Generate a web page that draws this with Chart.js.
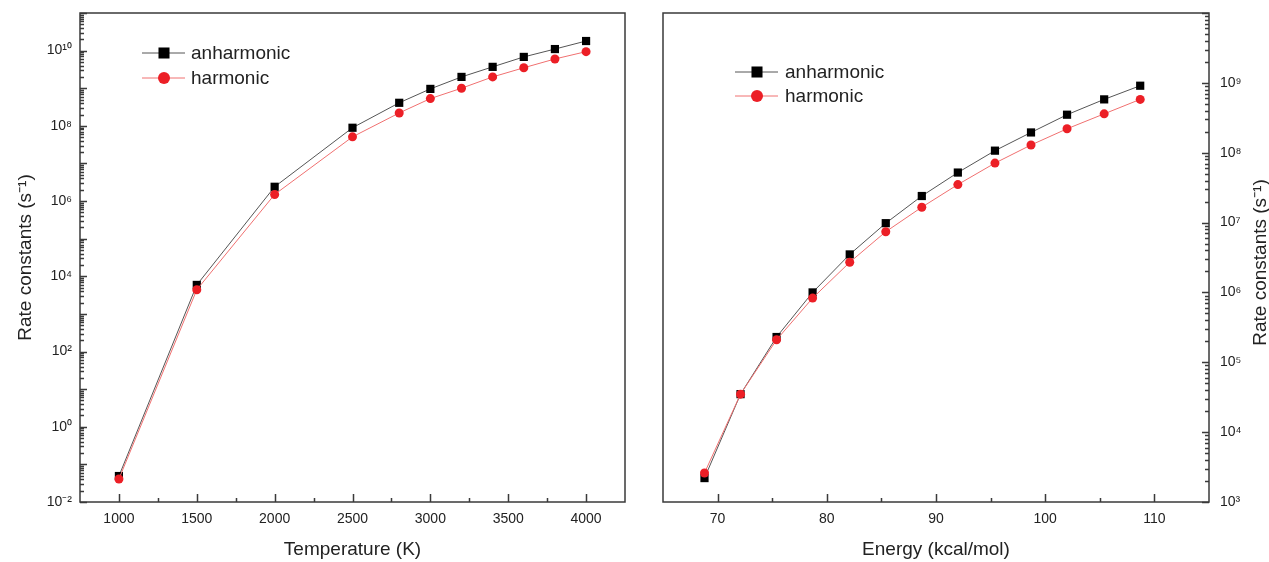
<!DOCTYPE html>
<html>
<head>
<meta charset="utf-8">
<title>Rate constants</title>
<script src="https://cdn.jsdelivr.net/npm/chart.js@4.4.0/dist/chart.umd.min.js"></script>
<style>
    html, body { margin: 0; padding: 0; background: #fff; overflow: hidden; }
    #wrap { position: relative; width: 1269px; height: 562px; }
    #tempChart { position: absolute; left: 0; top: 0; }
    #energyChart { position: absolute; left: 640px; top: 0; }
</style>
</head>
<body>
<div id="wrap">
    <canvas id="tempChart" width="640" height="562"></canvas>
    <canvas id="energyChart" width="629" height="562"></canvas>
</div>
<script>
// Left panel: rate constants vs temperature
const temperatures = [1000, 1500, 2000, 2500, 2800, 3000, 3200, 3400, 3600, 3800, 4000];
const anharmonicByT = [0.049, 5.9e3, 2.4e6, 8.9e7, 4.1e8, 9.6e8, 2.0e9, 3.7e9, 6.8e9, 1.1e10, 1.8e10];
const harmonicByT = [0.041, 4.4e3, 1.5e6, 5.1e7, 2.2e8, 5.3e8, 1.0e9, 2.0e9, 3.5e9, 6.0e9, 9.4e9];
const tempTicks = [1000, 1500, 2000, 2500, 3000, 3500, 4000];
const tempMinorTicks = [1250, 1750, 2250, 2750, 3250, 3750];
const tempRateLabelExps = [-2, 0, 2, 4, 6, 8, 10];

// Right panel: rate constants vs energy
const energies = [68.8, 72.1, 75.4, 78.7, 82.1, 85.4, 88.7, 92.0, 95.4, 98.7, 102.0, 105.4, 108.7];
const anharmonicByE = [2.2e3, 3.5e4, 2.3e5, 1.0e6, 3.5e6, 9.8e6, 2.4e7, 5.2e7, 1.07e8, 1.95e8, 3.5e8, 5.8e8, 9.1e8];
const harmonicByE = [2.6e3, 3.5e4, 2.1e5, 8.3e5, 2.7e6, 7.4e6, 1.66e7, 3.5e7, 7.1e7, 1.29e8, 2.2e8, 3.6e8, 5.8e8];
const energyTicks = [70, 80, 90, 100, 110];
const energyMinorTicks = [75, 85, 95, 105];
const energyRateLabelExps = [3, 4, 5, 6, 7, 8, 9];

const FONT = "'Liberation Sans', Arial, sans-serif";
const AXIS_COLOR = '#3a3a3a';
const TEXT_COLOR = '#222';

const SUP = {'-': '\u207B', '0': '\u2070', '1': '\u00B9', '2': '\u00B2', '3': '\u00B3',
    '4': '\u2074', '5': '\u2075', '6': '\u2076', '7': '\u2077', '8': '\u2078', '9': '\u2079'};

function powerLabel(value) {
    const e = Math.round(Math.log10(value));
    return '10' + String(e).split('').map(c => SUP[c]).join('');
}

function toPoints(xs, ys) {
    return xs.map((x, i) => ({x: x, y: ys[i]}));
}

// every decade plus 2..9 multiples between min and max exponent
function logTickSets(minExp, maxExp) {
    const major = [], minor = [];
    for (let e = minExp; e <= maxExp; e++) {
        major.push(Math.pow(10, e));
        if (e < maxExp) {
            for (let k = 2; k <= 9; k++) minor.push(k * Math.pow(10, e));
        }
    }
    return {major, minor};
}

// frame + inward tick marks
const frameTicks = {
    id: 'frameTicks',
    beforeDatasetsDraw(chart, args, opts) {
        const {ctx, chartArea: a, scales: {x, y}} = chart;
        ctx.save();
        ctx.strokeStyle = AXIS_COLOR;
        ctx.lineWidth = 1.5;
        ctx.beginPath();
        opts.xMajor.forEach(v => {
            const px = Math.round(x.getPixelForValue(v)) + 0.5;
            ctx.moveTo(px, a.bottom); ctx.lineTo(px, a.bottom - 8);
        });
        opts.xMinor.forEach(v => {
            const px = Math.round(x.getPixelForValue(v)) + 0.5;
            ctx.moveTo(px, a.bottom); ctx.lineTo(px, a.bottom - 4);
        });
        const ax = opts.ySide === 'right' ? a.right : a.left;
        const dir = opts.ySide === 'right' ? -1 : 1;
        opts.yMajor.forEach(v => {
            const py = Math.round(y.getPixelForValue(v)) + 0.5;
            ctx.moveTo(ax, py); ctx.lineTo(ax + dir * 7, py);
        });
        opts.yMinor.forEach(v => {
            const py = Math.round(y.getPixelForValue(v)) + 0.5;
            ctx.moveTo(ax, py); ctx.lineTo(ax + dir * 4, py);
        });
        ctx.stroke();
        ctx.strokeRect(a.left, a.top, a.right - a.left, a.bottom - a.top);
        ctx.restore();
    }
};

// legend inside the plot: line through marker, then label
const innerLegend = {
    id: 'innerLegend',
    afterDatasetsDraw(chart, args, opts) {
        const ctx = chart.ctx;
        ctx.save();
        chart.data.datasets.forEach((ds, i) => {
            const yy = opts.rows[i];
            ctx.strokeStyle = ds.borderColor;
            ctx.lineWidth = 1;
            ctx.beginPath();
            ctx.moveTo(opts.x0, yy); ctx.lineTo(opts.x1, yy);
            ctx.stroke();
            ctx.fillStyle = ds.pointBackgroundColor;
            Chart.helpers.drawPoint(ctx, {
                pointStyle: ds.pointStyle,
                radius: ds.pointStyle === 'rect' ? 7.8 : 6,
                rotation: 0,
                borderWidth: 0
            }, opts.mx, yy);
            ctx.fillStyle = TEXT_COLOR;
            ctx.font = '19px ' + FONT;
            ctx.textBaseline = 'middle';
            ctx.textAlign = 'left';
            ctx.fillText(ds.label, opts.tx, yy + 1);
        });
        ctx.restore();
    }
};

// right axis title, reading bottom to top like the left one
const rightTitle = {
    id: 'rightTitle',
    afterDraw(chart, args, opts) {
        if (!opts.text) return;
        const {ctx, chartArea: a} = chart;
        ctx.save();
        ctx.translate(opts.x, (a.top + a.bottom) / 2 + 5);
        ctx.rotate(-Math.PI / 2);
        ctx.fillStyle = TEXT_COLOR;
        ctx.font = '19px ' + FONT;
        ctx.textAlign = 'center';
        ctx.textBaseline = 'middle';
        ctx.fillText(opts.text, 0, 0);
        ctx.restore();
    }
};

function makeDatasets(xs, anh, har) {
    return [{
        label: 'anharmonic',
        data: toPoints(xs, anh),
        borderColor: '#555555',
        borderWidth: 1,
        pointStyle: 'rect',
        pointRadius: 5.8,
        pointBorderWidth: 0,
        pointBackgroundColor: '#000000',
        order: 1
    }, {
        label: 'harmonic',
        data: toPoints(xs, har),
        borderColor: '#f07070',
        borderWidth: 1,
        pointStyle: 'circle',
        pointRadius: 4.5,
        pointBorderWidth: 0,
        pointBackgroundColor: '#ec1f26',
        order: 0
    }];
}

function tickFont() {
    return {family: FONT, size: 14};
}

// keep the label half-heights from pushing the plot area in
function fixYBox(width) {
    return s => {
        s.width = width;
        s.paddingTop = 0;
        s.paddingBottom = 0;
    };
}

function fixXBox(s) {
    s.height = 60;
    s.paddingLeft = 0;
    s.paddingRight = 0;
}

function loadTempChart() {
    const yTicks = logTickSets(-2, 11);
    const ctx = document.getElementById('tempChart').getContext('2d');
    new Chart(ctx, {
        type: 'line',
        data: {datasets: makeDatasets(temperatures, anharmonicByT, harmonicByT)},
        options: {
            responsive: false,
            animation: false,
            events: [],
            layout: {padding: {top: 13, right: 15, left: 0, bottom: 0}},
            elements: {line: {tension: 0}},
            scales: {
                x: {
                    type: 'linear',
                    min: 750,
                    max: 4250,
                    afterBuildTicks: s => { s.ticks = tempTicks.map(v => ({value: v})); },
                    afterFit: fixXBox,
                    grid: {display: false, drawTicks: false},
                    border: {display: false},
                    ticks: {font: tickFont(), color: TEXT_COLOR, padding: 9, autoSkip: false, maxRotation: 0,
                        callback: v => String(v)},
                    title: {display: true, text: 'Temperature (K)', color: TEXT_COLOR,
                        font: {family: FONT, size: 19}, padding: {top: 0, bottom: 1}}
                },
                y: {
                    type: 'logarithmic',
                    min: 1e-2,
                    max: 1e11,
                    afterBuildTicks: s => { s.ticks = tempRateLabelExps.map(e => ({value: Math.pow(10, e)})); },
                    afterFit: fixYBox(80),
                    grid: {display: false, drawTicks: false},
                    border: {display: false},
                    ticks: {font: tickFont(), color: TEXT_COLOR, padding: 8, autoSkip: false,
                        callback: v => powerLabel(v)},
                    title: {display: true, text: 'Rate constants (s\u207B\u00B9)', color: TEXT_COLOR,
                        font: {family: FONT, size: 19}, padding: {top: 14, bottom: 0}}
                }
            },
            plugins: {
                legend: {display: false},
                tooltip: {enabled: false},
                frameTicks: {xMajor: tempTicks, xMinor: tempMinorTicks,
                    yMajor: yTicks.major, yMinor: yTicks.minor, ySide: 'left'},
                innerLegend: {x0: 142, x1: 185, mx: 164, tx: 191, rows: [53, 78]},
                rightTitle: {text: ''}
            }
        },
        plugins: [frameTicks, innerLegend, rightTitle]
    });
}

function loadEnergyChart() {
    const yTicks = logTickSets(3, 10);
    const ctx = document.getElementById('energyChart').getContext('2d');
    new Chart(ctx, {
        type: 'line',
        data: {datasets: makeDatasets(energies, anharmonicByE, harmonicByE)},
        options: {
            responsive: false,
            animation: false,
            events: [],
            layout: {padding: {top: 13, right: 0, left: 23, bottom: 0}},
            elements: {line: {tension: 0}},
            scales: {
                x: {
                    type: 'linear',
                    min: 65,
                    max: 115,
                    afterBuildTicks: s => { s.ticks = energyTicks.map(v => ({value: v})); },
                    afterFit: fixXBox,
                    grid: {display: false, drawTicks: false},
                    border: {display: false},
                    ticks: {font: tickFont(), color: TEXT_COLOR, padding: 9, autoSkip: false, maxRotation: 0,
                        callback: v => String(v)},
                    title: {display: true, text: 'Energy (kcal/mol)', color: TEXT_COLOR,
                        font: {family: FONT, size: 19}, padding: {top: 0, bottom: 1}}
                },
                y: {
                    type: 'logarithmic',
                    position: 'right',
                    min: 1e3,
                    max: 1e10,
                    afterBuildTicks: s => { s.ticks = energyRateLabelExps.map(e => ({value: Math.pow(10, e)})); },
                    afterFit: fixYBox(60),
                    grid: {display: false, drawTicks: false},
                    border: {display: false},
                    ticks: {font: tickFont(), color: TEXT_COLOR, padding: 11, autoSkip: false,
                        callback: v => powerLabel(v)}
                }
            },
            plugins: {
                legend: {display: false},
                tooltip: {enabled: false},
                frameTicks: {xMajor: energyTicks, xMinor: energyMinorTicks,
                    yMajor: yTicks.major, yMinor: yTicks.minor, ySide: 'right'},
                innerLegend: {x0: 95, x1: 138, mx: 117, tx: 145, rows: [72, 96]},
                rightTitle: {text: 'Rate constants (s\u207B\u00B9)', x: 621}
            }
        },
        plugins: [frameTicks, innerLegend, rightTitle]
    });
}

document.addEventListener('DOMContentLoaded', function() {
    loadTempChart();
    loadEnergyChart();
});
</script>
</body>
</html>
